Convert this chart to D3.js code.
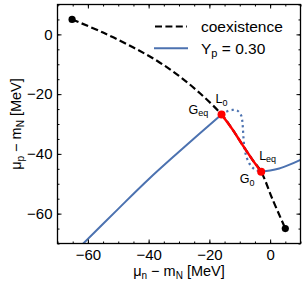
<!DOCTYPE html>
<html><head><meta charset="utf-8">
<script src="https://cdn.jsdelivr.net/npm/d3@7"></script>
<style>body{margin:0;background:#fff}svg{display:block;font-family:"Liberation Sans",Arial,sans-serif}</style>
</head><body><div id="c"></div>
<script>
// Data
const coexX = [-65.2, -55, -45, -37, -30, -23, -16.0, -12.4, -9.1, -5.8, -2.95, 0.75, 5.0];
const coexY = [5.0, 0.6, -4.4, -9.0, -13.9, -19.8, -26.8, -31.8, -37.0, -42.0, -46.0, -55.1, -65.0];
const redX = [-16.0, -12.4, -9.1, -5.8, -2.95];
const redY = [-26.8, -31.8, -37.0, -42.0, -46.0];
const ypStableLowX = [-62.5, -50, -40, -30, -23, -16.0];
const ypStableLowY = [-71, -58.4, -48.5, -39.3, -33.0, -26.8];
const ypUnstableX = [-16.0, -14.5, -12.4, -10.7, -9.6, -9.2, -9.0, -8.8, -8.5, -8.0, -6.9, -5.2, -2.95];
const ypUnstableY = [-26.8, -25.9, -25.3, -25.6, -27.0, -28.7, -30.9, -34.2, -37.6, -40.3, -43.1, -45.1, -46.0];
const ypStableHighX = [-2.95, 0, 3, 6.2, 10, 12];
const ypStableHighY = [-46.0, -45.6, -44.9, -43.7, -42.0, -41.0];
const endDots = [[-65.2, 5.0], [5.0, -65.0]];
const redDots = [[-16.0, -26.8], [-2.95, -46.0]];
const xTicks = [-60, -40, -20, 0];
const yTicks = [0, -20, -40, -60];
const xMinor = d3.range(-70, 10.1, 5);
const yMinor = d3.range(-70, 10.1, 5);
const legendLabels = ["coexistence", "Y", "p", " = 0.30"];

const W = 307, H = 286;
const L = 57.5, R = 300.5, T = 4.5, B = 243.5;
const x = d3.scaleLinear().domain([-70, 10]).range([L, R]);
const y = d3.scaleLinear().domain([-70, 10]).range([B, T]);

const svg = d3.select("#c").append("svg").attr("width", W).attr("height", H);
svg.append("defs").append("clipPath").attr("id", "clip")
  .append("rect").attr("x", L).attr("y", T).attr("width", R - L).attr("height", B - T);

const blue = "#4c72b0";
const lineNat = d3.line().x(d => x(d[0])).y(d => y(d[1])).curve(d3.curveCatmullRom.alpha(0.5));
const zip = (a, b) => a.map((v, i) => [v, b[i]]);

const g = svg.append("g").attr("clip-path", "url(#clip)");
g.append("path").attr("d", lineNat(zip(coexX, coexY))).attr("fill", "none")
  .attr("stroke", "#000").attr("stroke-width", 2.2).attr("stroke-dasharray", "7,3.4");
g.append("path").attr("d", lineNat(zip(ypStableLowX, ypStableLowY))).attr("fill", "none")
  .attr("stroke", blue).attr("stroke-width", 2);
g.append("path").attr("d", lineNat(zip(ypUnstableX, ypUnstableY))).attr("fill", "none")
  .attr("stroke", blue).attr("stroke-width", 2.2).attr("stroke-dasharray", "2.2,3.3");
g.append("path").attr("d", lineNat(zip(ypStableHighX, ypStableHighY))).attr("fill", "none")
  .attr("stroke", blue).attr("stroke-width", 2);
g.append("path").attr("d", lineNat(zip(redX, redY))).attr("fill", "none")
  .attr("stroke", "#ff0000").attr("stroke-width", 2.5);
g.selectAll("circle.e").data(endDots).enter().append("circle")
  .attr("cx", d => x(d[0])).attr("cy", d => y(d[1])).attr("r", 3.6).attr("fill", "#000");
g.selectAll("circle.r").data(redDots).enter().append("circle")
  .attr("cx", d => x(d[0])).attr("cy", d => y(d[1])).attr("r", 4).attr("fill", "#ff0000");

// point labels
function sublabel(px, py, main, sub) {
  const t = svg.append("text").attr("x", px).attr("y", py).attr("font-size", 12.5).attr("fill", "#000");
  t.append("tspan").text(main);
  t.append("tspan").attr("font-size", 9).attr("dy", 2.5).text(sub);
}
sublabel(x(-16.0) - 6, y(-26.8) - 11, "L", "0");
sublabel(x(-16.0) - 33, y(-26.8) - 0.5, "G", "eq");
sublabel(x(-2.95) - 2, y(-46.0) - 12, "L", "eq");
sublabel(x(-2.95) - 21.5, y(-46.0) + 11.5, "G", "0");

// axes
const fs = 15;
function styleAxis(sel) {
  sel.select(".domain").remove();
  sel.selectAll(".tick line").attr("stroke", "#000").attr("stroke-width", 1);
  sel.selectAll("text").attr("font-size", fs).attr("font-family", "Liberation Sans, Arial, sans-serif").attr("fill", "#000");
}
svg.append("g").attr("transform", `translate(0,${B})`)
  .call(d3.axisBottom(x).tickValues(xMinor).tickSize(-2).tickFormat("")).call(styleAxis);
svg.append("g").attr("transform", `translate(0,${B})`)
  .call(d3.axisBottom(x).tickValues(xTicks).tickSize(-4).tickPadding(6)).call(styleAxis);
svg.append("g").attr("transform", `translate(0,${T})`)
  .call(d3.axisTop(x).tickValues(xMinor).tickSize(-2).tickFormat("")).call(styleAxis);
svg.append("g").attr("transform", `translate(0,${T})`)
  .call(d3.axisTop(x).tickValues(xTicks).tickSize(-4).tickFormat("")).call(styleAxis);
svg.append("g").attr("transform", `translate(${L},0)`)
  .call(d3.axisLeft(y).tickValues(yMinor).tickSize(-2).tickFormat("")).call(styleAxis);
svg.append("g").attr("transform", `translate(${L},0)`)
  .call(d3.axisLeft(y).tickValues(yTicks).tickSize(-4).tickPadding(5)).call(styleAxis);
svg.append("g").attr("transform", `translate(${R},0)`)
  .call(d3.axisRight(y).tickValues(yMinor).tickSize(-2).tickFormat("")).call(styleAxis);
svg.append("g").attr("transform", `translate(${R},0)`)
  .call(d3.axisRight(y).tickValues(yTicks).tickSize(-4).tickFormat("")).call(styleAxis);

svg.append("rect").attr("x", L).attr("y", T).attr("width", R - L).attr("height", B - T)
  .attr("fill", "none").attr("stroke", "#000").attr("stroke-width", 1.3);

// axis labels
const afs = 14.5;
const xl = svg.append("text").attr("x", (L + R) / 2).attr("y", 276).attr("text-anchor", "middle")
  .attr("font-size", afs).attr("fill", "#000");
xl.append("tspan").text("μ");
xl.append("tspan").attr("font-size", 10).attr("dy", 3).text("n");
xl.append("tspan").attr("dy", -3).text(" − m");
xl.append("tspan").attr("font-size", 10).attr("dy", 3).text("N");
xl.append("tspan").attr("dy", -3).text(" [MeV]");

const yl = svg.append("text").attr("transform", `translate(21,${(T + B) / 2}) rotate(-90)`)
  .attr("text-anchor", "middle").attr("font-size", afs).attr("fill", "#000");
yl.append("tspan").text("μ");
yl.append("tspan").attr("font-size", 10).attr("dy", 3).text("p");
yl.append("tspan").attr("dy", -3).text(" − m");
yl.append("tspan").attr("font-size", 10).attr("dy", 3).text("N");
yl.append("tspan").attr("dy", -3).text(" [MeV]");

// legend
const lfs = 15.5;
const lg = svg.append("g");
lg.append("line").attr("x1", 155).attr("x2", 187).attr("y1", 26.5).attr("y2", 26.5)
  .attr("stroke", "#000").attr("stroke-width", 2.2).attr("stroke-dasharray", "7,3.4");
lg.append("line").attr("x1", 154).attr("x2", 188).attr("y1", 48.3).attr("y2", 48.3)
  .attr("stroke", blue).attr("stroke-width", 2);
lg.append("text").attr("x", 201).attr("y", 31.5).attr("font-size", lfs).attr("fill", "#000").text(legendLabels[0]);
const lt = lg.append("text").attr("x", 201).attr("y", 53.5).attr("font-size", lfs).attr("fill", "#000");
lt.append("tspan").text(legendLabels[1]);
lt.append("tspan").attr("font-size", 11).attr("dy", 3).text(legendLabels[2]);
lt.append("tspan").attr("dy", -3).text(legendLabels[3]);
</script></body></html>
